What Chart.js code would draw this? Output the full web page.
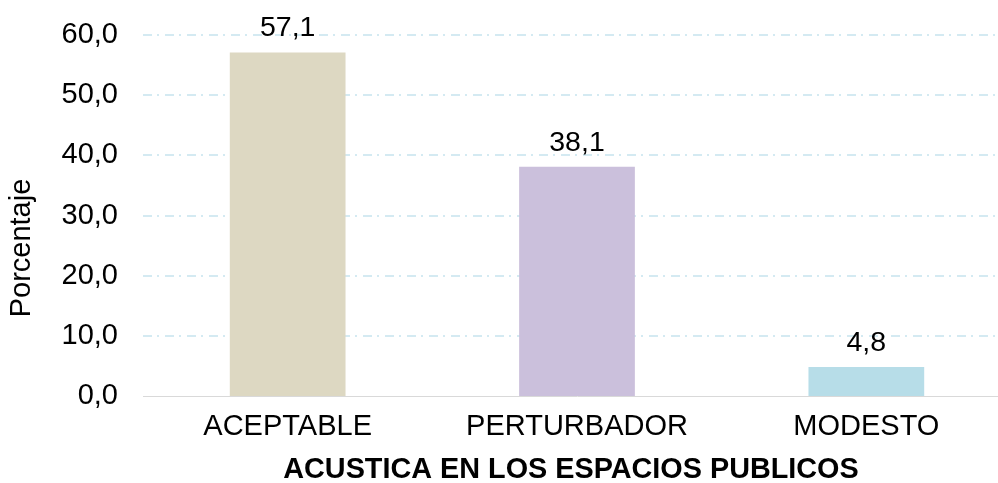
<!DOCTYPE html>
<html><head><meta charset="utf-8">
<script src="https://cdn.jsdelivr.net/npm/chart.js@4/dist/chart.umd.min.js"></script>
<style>html,body{margin:0;padding:0;overflow:hidden;background:#fff;width:998px;height:483px}canvas{display:block}</style>
</head><body>
<canvas id="c" width="1012" height="483"></canvas>
<script>
const categories = ['ACEPTABLE', 'PERTURBADOR', 'MODESTO'];
const values = [57.1, 38.1, 4.8];
const barColors = ['#ddd8c2', '#cbc0dc', '#b7dde8'];
const yTicks = [0, 10, 20, 30, 40, 50, 60];
const yTitle = 'Porcentaje';
const xTitle = 'ACUSTICA EN LOS ESPACIOS PUBLICOS';

const FONT = '"Liberation Sans", Arial, sans-serif';
const fmt = v => v.toFixed(1).replace('.', ',');

const extras = {
  id: 'extras',
  beforeDatasetsDraw(chart) {
    const {ctx, chartArea, scales} = chart;
    const y = scales.y;
    ctx.save();
    ctx.strokeStyle = '#c6e4ee';
    ctx.lineWidth = 1.5;
    ctx.setLineDash([9, 5, 2, 6]);
    yTicks.forEach(t => {
      if (t === 0) return;
      const py = Math.round(y.getPixelForValue(t));
      ctx.beginPath();
      ctx.moveTo(chartArea.left, py);
      ctx.lineTo(chartArea.right, py);
      ctx.stroke();
    });
    ctx.restore();
  },
  afterDatasetsDraw(chart) {
    const {ctx} = chart;
    const meta = chart.getDatasetMeta(0);
    ctx.save();
    ctx.fillStyle = '#000';
    ctx.font = '28.5px ' + FONT;
    ctx.textAlign = 'center';
    ctx.textBaseline = 'alphabetic';
    meta.data.forEach((bar, i) => {
      ctx.fillText(fmt(values[i]), bar.x, bar.y - 16);
    });
    ctx.font = 'bold 28.8px ' + FONT;
    ctx.textBaseline = 'middle';
    ctx.fillText(xTitle, 571, 470);
    ctx.font = '29px ' + FONT;
    ctx.translate(22, 248);
    ctx.rotate(-Math.PI / 2);
    ctx.fillText(yTitle, 0, 0);
    ctx.restore();
  }
};

new Chart(document.getElementById('c'), {
  type: 'bar',
  data: {
    labels: categories,
    datasets: [{
      data: values,
      backgroundColor: barColors,
      borderWidth: 0,
      categoryPercentage: 1,
      barPercentage: 0.4
    }]
  },
  options: {
    responsive: false,
    animation: false,
    events: [],
    layout: {padding: {top: 35, right: 1, left: 0, bottom: 0}},
    plugins: {legend: {display: false}, tooltip: {enabled: false}},
    scales: {
      x: {
        grid: {display: false, drawTicks: false},
        border: {display: true, color: '#d9d9d9', width: 1},
        ticks: {color: '#000', font: {family: FONT, size: 29}, padding: 14, maxRotation: 0, autoSkip: false},
        afterFit: s => { s.height = 87; s.paddingLeft = 0; s.paddingRight = 0; }
      },
      y: {
        min: 0, max: 60,
        afterBuildTicks: s => { s.ticks = yTicks.map(v => ({value: v})); },
        grid: {display: false, drawTicks: false},
        border: {display: false},
        ticks: {color: '#000', font: {family: FONT, size: 29}, padding: 25, callback: v => fmt(v)},
        afterFit: s => { s.width = 143; s.paddingTop = 0; s.paddingBottom = 0; }
      }
    }
  },
  plugins: [extras]
});
</script>
</body></html>
